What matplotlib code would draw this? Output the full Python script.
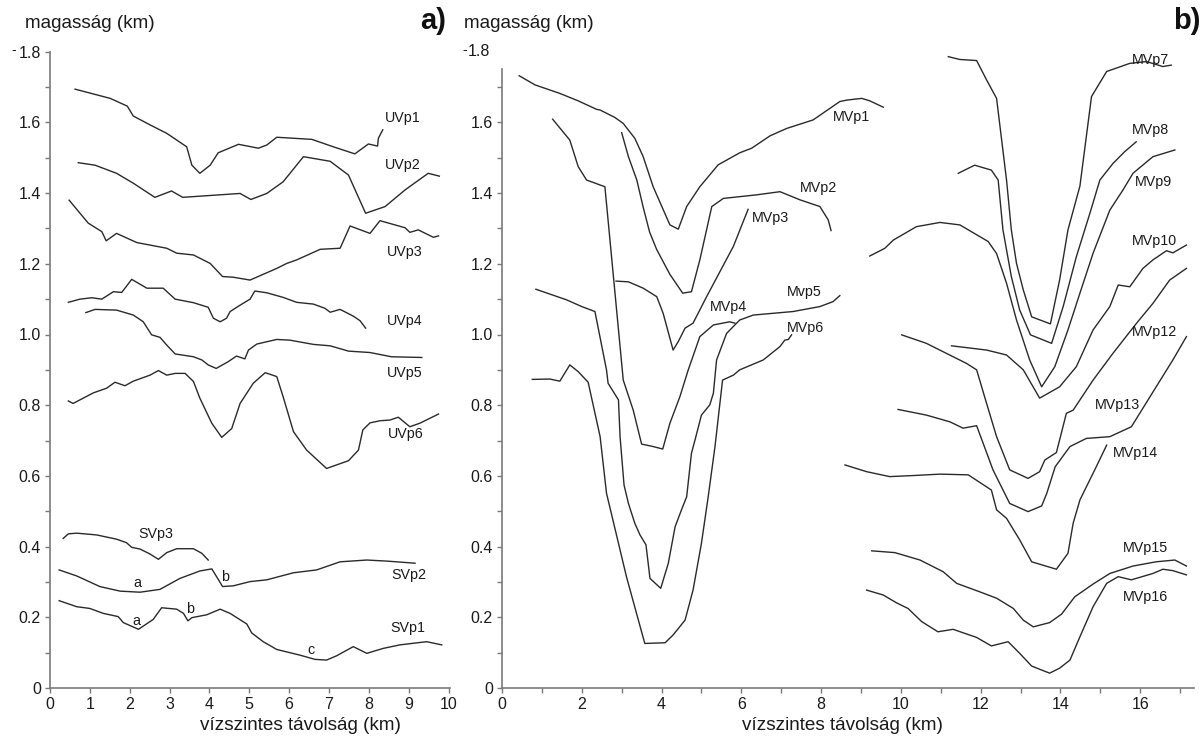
import matplotlib
matplotlib.use("Agg")
import matplotlib.pyplot as plt
from matplotlib.ticker import MultipleLocator, FixedLocator

plt.rcParams['font.family'] = ['Liberation Sans', 'DejaVu Sans']

# ---------------- data: panel a) ----------------
UVp1_x = [0.63, 1.51, 1.94, 2.09, 2.51, 2.93, 3.43, 3.56, 3.76, 4.02, 4.22, 4.73, 5.23, 5.44, 5.69, 6.57, 7.11, 7.65, 7.99, 8.22, 8.24, 8.35]
UVp1_h = [1.694, 1.668, 1.646, 1.618, 1.593, 1.569, 1.531, 1.479, 1.456, 1.479, 1.514, 1.538, 1.527, 1.536, 1.558, 1.552, 1.531, 1.511, 1.539, 1.533, 1.555, 1.579]

UVp2_x = [0.71, 1.13, 1.67, 2.09, 2.63, 3.05, 3.33, 4.77, 5.04, 5.44, 5.85, 6.36, 7.03, 7.49, 7.92, 8.41, 8.91, 9.49, 9.77]
UVp2_h = [1.486, 1.479, 1.456, 1.428, 1.388, 1.406, 1.388, 1.399, 1.382, 1.399, 1.432, 1.503, 1.490, 1.451, 1.343, 1.362, 1.409, 1.456, 1.448]

UVp3_x = [0.48, 0.96, 1.30, 1.41, 1.67, 2.18, 2.93, 3.18, 3.60, 4.02, 4.33, 4.60, 5.02, 5.69, 5.94, 6.19, 6.78, 7.28, 7.53, 8.03, 8.28, 8.91, 9.03, 9.24, 9.62, 9.75]
UVp3_h = [1.380, 1.315, 1.291, 1.265, 1.286, 1.260, 1.244, 1.230, 1.225, 1.201, 1.164, 1.162, 1.154, 1.187, 1.201, 1.211, 1.241, 1.244, 1.307, 1.286, 1.322, 1.302, 1.289, 1.296, 1.275, 1.279]

UVp4_x = [0.46, 0.75, 1.05, 1.30, 1.59, 1.80, 2.05, 2.43, 2.84, 3.14, 3.60, 3.97, 4.10, 4.27, 4.43, 4.52, 4.77, 5.02, 5.14, 5.44, 5.85, 6.19, 6.61, 6.90, 7.03, 7.28, 7.61, 7.78, 7.92]
UVp4_h = [1.091, 1.100, 1.104, 1.100, 1.121, 1.119, 1.156, 1.131, 1.131, 1.100, 1.090, 1.077, 1.046, 1.036, 1.046, 1.065, 1.083, 1.100, 1.123, 1.118, 1.105, 1.091, 1.086, 1.074, 1.063, 1.071, 1.052, 1.039, 1.018]

UVp5_x = [0.90, 1.13, 1.67, 2.09, 2.34, 2.47, 2.55, 2.76, 2.93, 3.14, 3.60, 3.81, 3.97, 4.17, 4.47, 4.68, 4.89, 4.98, 5.19, 5.69, 6.02, 6.61, 7.03, 7.49, 8.03, 8.57, 9.33]
UVp5_h = [1.062, 1.071, 1.069, 1.055, 1.036, 1.013, 0.999, 0.992, 0.970, 0.945, 0.937, 0.928, 0.914, 0.904, 0.923, 0.939, 0.931, 0.956, 0.973, 0.986, 0.984, 0.972, 0.968, 0.953, 0.949, 0.937, 0.935]

UVp6_x = [0.46, 0.58, 1.09, 1.42, 1.63, 1.88, 2.09, 2.51, 2.72, 2.93, 3.14, 3.39, 3.60, 3.76, 4.06, 4.31, 4.56, 4.77, 5.10, 5.40, 5.69, 5.85, 6.11, 6.44, 6.94, 7.49, 7.74, 7.85, 8.03, 8.28, 8.53, 8.74, 9.03, 9.28, 9.75]
UVp6_h = [0.812, 0.805, 0.835, 0.848, 0.865, 0.855, 0.868, 0.885, 0.898, 0.885, 0.890, 0.890, 0.867, 0.820, 0.749, 0.709, 0.734, 0.805, 0.862, 0.892, 0.881, 0.824, 0.725, 0.673, 0.621, 0.643, 0.673, 0.730, 0.750, 0.756, 0.758, 0.766, 0.739, 0.749, 0.775]

SVp3_x = [0.33, 0.46, 0.67, 1.17, 1.67, 1.92, 2.05, 2.26, 2.51, 2.72, 2.93, 3.18, 3.60, 3.81, 3.97]
SVp3_h = [0.423, 0.436, 0.438, 0.433, 0.421, 0.411, 0.398, 0.393, 0.379, 0.364, 0.383, 0.394, 0.394, 0.381, 0.362]

SVp2_x = [0.23, 0.67, 1.25, 1.76, 2.26, 2.76, 3.26, 3.76, 4.06, 4.18, 4.33, 4.60, 5.02, 5.44, 6.11, 6.69, 7.28, 7.95, 8.45, 9.16]
SVp2_h = [0.334, 0.317, 0.287, 0.274, 0.271, 0.279, 0.310, 0.331, 0.337, 0.315, 0.287, 0.289, 0.301, 0.306, 0.326, 0.334, 0.357, 0.362, 0.359, 0.353]

SVp1_x = [0.23, 0.67, 1.00, 1.34, 1.71, 1.84, 2.22, 2.59, 2.80, 3.18, 3.35, 3.46, 3.56, 3.93, 4.27, 4.52, 4.94, 5.06, 5.35, 5.69, 6.27, 6.65, 6.94, 7.19, 7.61, 7.95, 8.36, 8.78, 9.45, 9.83]
SVp1_h = [0.247, 0.230, 0.225, 0.211, 0.202, 0.185, 0.166, 0.194, 0.227, 0.223, 0.211, 0.190, 0.199, 0.207, 0.223, 0.211, 0.181, 0.156, 0.131, 0.109, 0.093, 0.081, 0.079, 0.091, 0.117, 0.098, 0.112, 0.122, 0.131, 0.122]

# ---------------- data: panel b) ----------------
MVp1_x = [0.43, 0.83, 1.45, 1.91, 2.37, 2.46, 2.83, 3.04, 3.33, 3.54, 3.79, 4.21, 4.42, 4.63, 4.96, 5.42, 5.96, 6.26, 6.72, 7.14, 7.80, 8.47, 8.64, 9.02, 9.22, 9.56]
MVp1_h = [1.732, 1.706, 1.682, 1.661, 1.637, 1.635, 1.614, 1.597, 1.555, 1.503, 1.418, 1.310, 1.298, 1.362, 1.418, 1.480, 1.514, 1.527, 1.562, 1.583, 1.607, 1.659, 1.663, 1.668, 1.661, 1.643]

MVp2_x = [3.00, 3.17, 3.38, 3.54, 3.70, 3.88, 4.21, 4.53, 4.75, 4.96, 5.26, 5.55, 6.38, 6.97, 7.47, 7.97, 8.18, 8.25]
MVp2_h = [1.571, 1.503, 1.437, 1.360, 1.290, 1.240, 1.170, 1.117, 1.121, 1.211, 1.362, 1.385, 1.395, 1.404, 1.381, 1.362, 1.324, 1.294]

MVp3_x = [2.86, 3.17, 3.54, 3.88, 4.04, 4.29, 4.42, 4.59, 4.79, 5.13, 5.80, 6.17]
MVp3_h = [1.151, 1.149, 1.131, 1.107, 1.060, 0.956, 0.980, 1.018, 1.032, 1.107, 1.249, 1.354]

MVp4_x = [1.27, 1.70, 1.91, 2.12, 2.58, 3.04, 3.29, 3.50, 3.79, 4.03, 4.21, 4.46, 4.67, 4.96, 5.30, 5.71, 5.84]
MVp4_h = [1.609, 1.550, 1.475, 1.437, 1.418, 0.871, 0.786, 0.690, 0.683, 0.676, 0.749, 0.824, 0.900, 0.994, 1.027, 1.036, 1.032]

MVp5_x = [0.85, 1.62, 2.00, 2.33, 2.62, 2.66, 2.92, 2.96, 3.06, 3.17, 3.33, 3.46, 3.61, 3.71, 3.98, 4.17, 4.34, 4.50, 4.63, 4.75, 4.84, 5.00, 5.21, 5.30, 5.38, 5.63, 5.96, 6.30, 7.30, 7.97, 8.30, 8.47]
MVp5_h = [1.128, 1.098, 1.079, 1.065, 0.900, 0.862, 0.815, 0.711, 0.574, 0.522, 0.466, 0.433, 0.405, 0.310, 0.282, 0.353, 0.456, 0.504, 0.541, 0.664, 0.702, 0.772, 0.801, 0.834, 0.928, 1.003, 1.041, 1.055, 1.065, 1.079, 1.093, 1.110]

MVp6_x = [0.76, 1.20, 1.45, 1.70, 1.91, 2.16, 2.46, 2.62, 3.12, 3.58, 4.09, 4.29, 4.59, 4.79, 5.00, 5.17, 5.34, 5.53, 5.80, 5.96, 6.55, 6.97, 7.09, 7.18, 7.26]
MVp6_h = [0.873, 0.874, 0.868, 0.914, 0.895, 0.865, 0.711, 0.551, 0.315, 0.126, 0.128, 0.150, 0.192, 0.277, 0.409, 0.541, 0.683, 0.871, 0.885, 0.900, 0.928, 0.966, 0.984, 0.986, 0.999]

MVp7_x = [11.19, 11.48, 11.90, 12.15, 12.40, 12.65, 12.77, 12.90, 13.07, 13.28, 13.75, 13.98, 14.19, 14.49, 14.78, 15.16, 15.74, 16.16, 16.57, 16.78]
MVp7_h = [1.786, 1.778, 1.775, 1.720, 1.668, 1.437, 1.296, 1.201, 1.126, 1.050, 1.030, 1.154, 1.296, 1.420, 1.673, 1.744, 1.767, 1.772, 1.758, 1.762]

MVp8_x = [11.44, 11.85, 12.27, 12.44, 12.56, 12.77, 12.98, 13.25, 13.78, 14.07, 14.40, 14.74, 14.99, 15.32, 15.61, 15.90]
MVp8_h = [1.456, 1.479, 1.465, 1.437, 1.296, 1.164, 1.069, 0.999, 0.975, 1.079, 1.220, 1.343, 1.437, 1.484, 1.517, 1.545]

MVp9_x = [9.22, 9.60, 9.81, 10.39, 10.98, 11.48, 12.19, 12.40, 12.65, 12.90, 13.23, 13.53, 13.86, 14.19, 14.49, 14.82, 15.24, 15.57, 15.82, 16.32, 16.87]
MVp9_h = [1.222, 1.244, 1.267, 1.305, 1.317, 1.310, 1.263, 1.229, 1.145, 1.041, 0.928, 0.852, 0.909, 1.013, 1.117, 1.230, 1.352, 1.409, 1.456, 1.503, 1.522]

MVp10_x = [11.27, 12.15, 12.65, 13.07, 13.48, 13.98, 14.40, 14.82, 15.24, 15.45, 15.74, 16.07, 16.32, 16.66, 16.82, 17.16]
MVp10_h = [0.968, 0.956, 0.942, 0.900, 0.820, 0.852, 0.909, 1.013, 1.079, 1.140, 1.135, 1.187, 1.211, 1.237, 1.231, 1.253]

MVp12_x = [10.02, 10.64, 11.65, 11.90, 12.15, 12.40, 12.73, 13.19, 13.48, 13.61, 13.90, 14.15, 14.32, 14.82, 15.32, 15.91, 16.32, 16.74, 17.16]
MVp12_h = [0.999, 0.975, 0.918, 0.900, 0.805, 0.711, 0.617, 0.593, 0.612, 0.645, 0.666, 0.777, 0.786, 0.871, 0.947, 1.032, 1.088, 1.154, 1.187]

MVp13_x = [9.93, 10.64, 11.23, 11.56, 11.90, 12.31, 12.73, 13.19, 13.53, 13.66, 13.87, 14.24, 14.65, 15.24, 15.78, 16.82, 17.16]
MVp13_h = [0.788, 0.772, 0.753, 0.735, 0.742, 0.617, 0.522, 0.499, 0.515, 0.551, 0.626, 0.683, 0.706, 0.711, 0.739, 0.928, 0.994]

MVp14_x = [8.60, 9.14, 9.72, 10.31, 10.98, 11.69, 12.27, 12.40, 12.65, 12.98, 13.28, 13.90, 14.19, 14.32, 14.49, 14.90, 15.16]
MVp14_h = [0.631, 0.612, 0.598, 0.601, 0.605, 0.603, 0.560, 0.504, 0.480, 0.419, 0.357, 0.336, 0.381, 0.466, 0.532, 0.626, 0.687]

MVp15_x = [9.27, 9.85, 10.48, 11.06, 11.40, 11.98, 12.40, 12.82, 13.07, 13.32, 13.73, 14.03, 14.36, 14.82, 15.24, 15.82, 16.40, 16.87, 17.16]
MVp15_h = [0.388, 0.383, 0.362, 0.329, 0.296, 0.272, 0.254, 0.225, 0.192, 0.173, 0.185, 0.209, 0.258, 0.294, 0.324, 0.345, 0.357, 0.362, 0.345]

MVp16_x = [9.14, 9.56, 9.89, 10.18, 10.52, 10.93, 11.31, 11.90, 12.27, 12.69, 12.98, 13.28, 13.73, 13.98, 14.24, 14.49, 14.82, 15.16, 15.45, 15.78, 16.32, 16.57, 16.82, 17.16]
MVp16_h = [0.277, 0.263, 0.241, 0.225, 0.188, 0.159, 0.166, 0.143, 0.119, 0.131, 0.098, 0.062, 0.042, 0.056, 0.079, 0.145, 0.230, 0.296, 0.315, 0.306, 0.324, 0.336, 0.332, 0.320]

left_curves = [(UVp1_x, UVp1_h), (UVp2_x, UVp2_h), (UVp3_x, UVp3_h), (UVp4_x, UVp4_h),
               (UVp5_x, UVp5_h), (UVp6_x, UVp6_h), (SVp3_x, SVp3_h), (SVp2_x, SVp2_h), (SVp1_x, SVp1_h)]
right_curves = [(MVp1_x, MVp1_h), (MVp2_x, MVp2_h), (MVp3_x, MVp3_h), (MVp4_x, MVp4_h),
                (MVp5_x, MVp5_h), (MVp6_x, MVp6_h), (MVp7_x, MVp7_h), (MVp8_x, MVp8_h),
                (MVp9_x, MVp9_h), (MVp10_x, MVp10_h), (MVp12_x, MVp12_h), (MVp13_x, MVp13_h),
                (MVp14_x, MVp14_h), (MVp15_x, MVp15_h), (MVp16_x, MVp16_h)]

left_names = ["UVp1", "UVp2", "UVp3", "UVp4", "UVp5", "UVp6", "SVp3", "SVp2", "SVp1", "a", "b", "a", "b", "c"]
left_name_pos = [(8.41, 1.612), (8.41, 1.480), (8.45, 1.232), (8.45, 1.039), (8.45, 0.892), (8.49, 0.718),
                 (2.22, 0.436), (8.57, 0.320), (8.54, 0.169),
                 (2.10, 0.298), (4.30, 0.313), (2.07, 0.190), (3.41, 0.223), (6.45, 0.107)]
right_names = ["MVp1", "MVp2", "MVp3", "MVp4", "Mvp5", "MVp6", "MVp7", "MVp8", "MVp9", "MVp10",
               "MVp12", "MVp13", "MVp14", "MVp15", "MVp16"]
right_name_pos = [(8.30, 1.616), (7.47, 1.415), (6.26, 1.329), (5.21, 1.079), (7.15, 1.119), (7.15, 1.017),
                  (15.78, 1.777), (15.78, 1.578), (15.86, 1.430), (15.78, 1.265), (15.78, 1.006),
                  (14.86, 0.801), (15.32, 0.664), (15.56, 0.395), (15.57, 0.258)]

LINE = '#2a2a2a'
SPINE = '#7a7a7a'
TXT = '#1a1a1a'

fig = plt.figure(figsize=(12.04, 7.40), dpi=100)
axL = fig.add_axes([50 / 1204, 52 / 740, 400.5 / 1204, 636.3 / 740])
axR = fig.add_axes([502 / 1204, 52 / 740, 692 / 1204, 636.3 / 740])


def style(ax, xmax, xmajor, ytop, ymajor_top):
    ax.set_xlim(0, xmax)
    ax.set_ylim(0, 1.8)
    for s in ['top', 'right']:
        ax.spines[s].set_visible(False)
    for s in ['left', 'bottom']:
        ax.spines[s].set_color(SPINE)
        ax.spines[s].set_linewidth(1.2)
    ax.spines['left'].set_bounds(0, ytop)
    ax.yaxis.set_major_locator(FixedLocator([round(0.2 * i, 1) for i in range(int(round(ymajor_top / 0.2)) + 1)]))
    ax.yaxis.set_minor_locator(FixedLocator([round(0.1 + 0.2 * i, 1) for i in range(int(round(ytop / 0.2)))]))
    ax.xaxis.set_major_locator(MultipleLocator(xmajor))
    ax.xaxis.set_minor_locator(MultipleLocator(1))
    ax.tick_params(which='both', direction='out', color=SPINE, width=1.0, labelsize=11.5,
                   labelcolor=TXT)
    ax.tick_params(which='major', length=3.5, pad=3)
    ax.tick_params(which='minor', length=3.5)
    ax.yaxis.set_major_formatter(matplotlib.ticker.FuncFormatter(
        lambda v, p: '0' if abs(v) < 1e-9 else '%.1f' % v))
    ax.xaxis.set_major_formatter(matplotlib.ticker.FuncFormatter(lambda v, p: '%d' % round(v)))


style(axL, 10.05, 1, 1.8, 1.8)
style(axR, 17.35, 2, 1.75, 1.6)

for xs, hs in left_curves:
    axL.plot(xs, hs, color=LINE, lw=1.0, clip_on=False)
for xs, hs in right_curves:
    axR.plot(xs, hs, color=LINE, lw=1.0, clip_on=False)

for name, (px, py) in zip(left_names, left_name_pos):
    axL.text(px, py, name, fontsize=10.3, color=TXT, ha='left', va='center')
for name, (px, py) in zip(right_names, right_name_pos):
    axR.text(px, py, name, fontsize=10.3, color=TXT, ha='left', va='center')

# axis titles and panel letters
fig.text(25 / 1204, 1 - 23 / 740, 'magasság (km)', fontsize=13.6, color=TXT, ha='left', va='center')
fig.text(464 / 1204, 1 - 23 / 740, 'magasság (km)', fontsize=13.6, color=TXT, ha='left', va='center')
fig.text(300 / 1204, 1 - 726 / 740, 'vízszintes távolság (km)', fontsize=13.6, color=TXT, ha='center', va='center')
fig.text(842 / 1204, 1 - 726 / 740, 'vízszintes távolság (km)', fontsize=13.6, color=TXT, ha='center', va='center')
fig.text(446 / 1204, 1 - 21 / 740, 'a)', fontsize=21, fontweight='bold', color='#111111', ha='right', va='center')
fig.text(1201 / 1204, 1 - 21 / 740, 'b)', fontsize=21, fontweight='bold', color='#111111', ha='right', va='center')
# stray dash marks beside the 1.8 labels and the 1.8 label on panel b
fig.text(14 / 1204, 1 - 50 / 740, '-', fontsize=10, color=TXT, ha='center', va='center')
fig.text(490 / 1204, 1 - 52 / 740, '1.8', fontsize=11.5, color=TXT, ha='right', va='center')
fig.text(465 / 1204, 1 - 50 / 740, '-', fontsize=10, color=TXT, ha='center', va='center')

fig.savefig('out.png', dpi=100, facecolor='white')
